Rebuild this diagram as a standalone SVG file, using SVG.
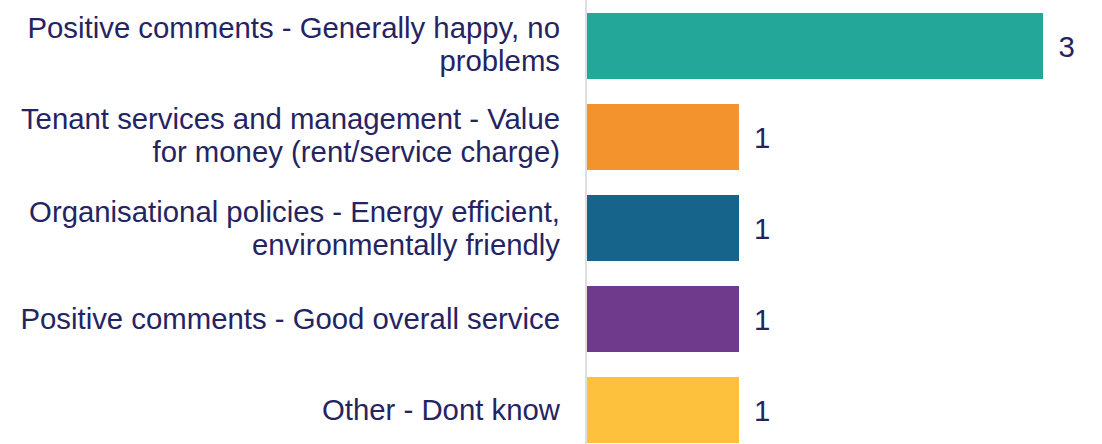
<svg xmlns="http://www.w3.org/2000/svg" width="1102" height="444" viewBox="0 0 1102 444">
<style>
text{font-family:"Liberation Sans",Arial,sans-serif;font-size:29.33px;fill:#252462}
.lbl{text-anchor:end}
</style>
<rect width="1102" height="444" fill="#ffffff"/>
<g id="axis"><line x1="586" y1="0" x2="586" y2="444" stroke="#d4d4d4" stroke-width="1.5"/></g>
<g id="bar1"><rect x="587" y="13" width="456" height="66" fill="#22A799"/>
<text class="lbl" x="560" y="38">Positive comments - Generally happy, no</text>
<text class="lbl" x="560" y="71">problems</text>
<text x="1058.5" y="56.5">3</text></g>
<g id="bar2"><rect x="587" y="104" width="152" height="66" fill="#F3932D"/>
<text class="lbl" x="560" y="129">Tenant services and management - Value</text>
<text class="lbl" x="560" y="162">for money (rent/service charge)</text>
<text x="754" y="147.5">1</text></g>
<g id="bar3"><rect x="587" y="195" width="152" height="66" fill="#16638C"/>
<text class="lbl" x="560" y="221.5">Organisational policies - Energy efficient,</text>
<text class="lbl" x="560" y="254.5">environmentally friendly</text>
<text x="754" y="238.5">1</text></g>
<g id="bar4"><rect x="587" y="286" width="152" height="66" fill="#6F398C"/>
<text class="lbl" x="560" y="329">Positive comments - Good overall service</text>
<text x="754" y="329.5">1</text></g>
<g id="bar5"><rect x="587" y="377" width="152" height="66" fill="#FDC13E"/>
<text class="lbl" x="560" y="420">Other - Dont know</text>
<text x="754" y="420.5">1</text></g>
</svg>
